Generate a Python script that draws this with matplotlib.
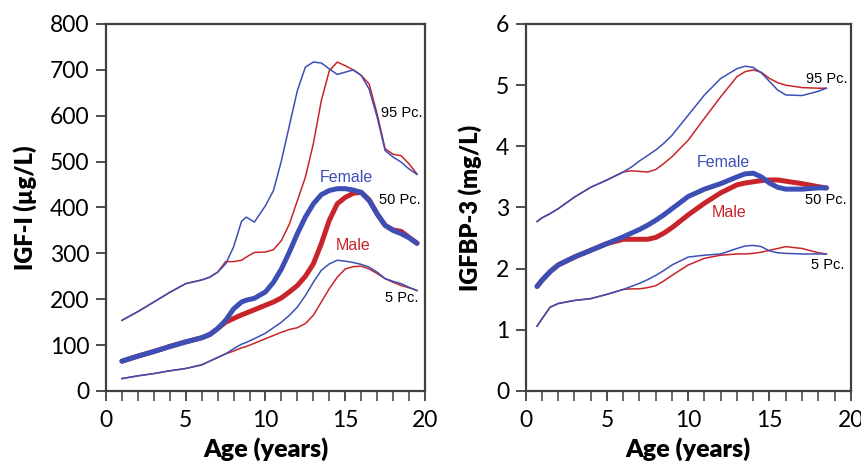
import matplotlib
matplotlib.use("Agg")
import matplotlib.pyplot as plt
import numpy as np

# ---------------- IGF-I data (µg/L) ----------------
age_igf = [1, 2, 3, 4, 5, 6, 6.5, 7, 7.5, 8, 8.5, 8.8, 9.3, 10, 10.5, 11, 11.5, 12, 12.5,
           13, 13.5, 14, 14.5, 15, 15.5, 16, 16.5, 17, 17.5, 18, 18.5, 19, 19.5]

igf_f95 = [154, 173, 194, 215, 234, 242, 248, 259, 277, 314, 370, 379, 368, 404, 437, 502,
           579, 655, 706, 717, 715, 702, 690, 695, 700, 688, 658, 597, 524, 510, 499, 484, 472]
igf_m95 = [154, 173, 194, 215, 234, 242, 248, 259, 282, 282, 285, 292, 302, 303, 308, 328,
           364, 415, 466, 539, 633, 698, 717, 709, 700, 688, 669, 604, 528, 516, 513, 495, 473]
igf_f50 = [65, 76, 86, 97, 107, 116, 123, 136, 154, 179, 194, 198, 202, 216, 237, 266,
           303, 343, 379, 408, 428, 437, 441, 441, 438, 433, 415, 386, 361, 350, 343, 334, 322]
igf_m50 = [65, 76, 86, 97, 107, 116, 123, 136, 150, 158, 166, 170, 177, 187, 194, 203,
           216, 230, 250, 277, 321, 372, 408, 422, 431, 433, 417, 386, 361, 351, 348, 335, 322]
igf_f5 = [27, 33, 38, 44, 49, 57, 65, 73, 81, 92, 102, 106, 114, 126, 138, 150,
          165, 183, 208, 237, 263, 277, 285, 283, 280, 276, 270, 259, 245, 239, 234, 226, 219]
igf_m5 = [27, 33, 38, 44, 49, 57, 65, 73, 81, 87, 94, 97, 104, 114, 121, 128,
          134, 138, 147, 165, 194, 223, 248, 266, 271, 272, 266, 256, 245, 237, 230, 225, 219]

# ---------------- IGFBP-3 data (mg/L) ----------------
age_bp = [0.7, 1, 1.5, 2, 3, 4, 5, 6, 6.5, 7, 7.5, 8, 8.5, 9, 10, 11, 12, 13, 13.5,
          14, 14.5, 15, 15.5, 16, 17, 18, 18.5]

bp_f95 = [2.77, 2.83, 2.90, 2.98, 3.17, 3.33, 3.45, 3.58, 3.66, 3.76, 3.85, 3.94, 4.05, 4.18,
          4.51, 4.84, 5.11, 5.27, 5.31, 5.29, 5.20, 5.06, 4.92, 4.84, 4.83, 4.90, 4.95]
bp_m95 = [2.77, 2.83, 2.90, 2.98, 3.17, 3.33, 3.45, 3.58, 3.60, 3.59, 3.58, 3.62, 3.72, 3.83,
          4.10, 4.46, 4.81, 5.14, 5.22, 5.25, 5.21, 5.11, 5.04, 5.00, 4.96, 4.95, 4.95]
bp_f50 = [1.71, 1.81, 1.95, 2.06, 2.19, 2.30, 2.41, 2.52, 2.58, 2.64, 2.71, 2.79, 2.88, 2.98,
          3.18, 3.30, 3.39, 3.50, 3.55, 3.56, 3.50, 3.40, 3.33, 3.30, 3.30, 3.32, 3.32]
bp_m50 = [1.71, 1.81, 1.95, 2.06, 2.19, 2.30, 2.41, 2.48, 2.48, 2.48, 2.48, 2.51, 2.58, 2.67,
          2.88, 3.07, 3.24, 3.37, 3.40, 3.42, 3.44, 3.45, 3.45, 3.43, 3.39, 3.34, 3.32]
bp_f5 = [1.06, 1.18, 1.37, 1.43, 1.48, 1.51, 1.58, 1.66, 1.71, 1.76, 1.82, 1.89, 1.97, 2.06,
         2.19, 2.22, 2.24, 2.33, 2.37, 2.38, 2.36, 2.29, 2.26, 2.25, 2.24, 2.24, 2.24]
bp_m5 = [1.06, 1.18, 1.37, 1.43, 1.48, 1.51, 1.58, 1.66, 1.67, 1.67, 1.69, 1.72, 1.80, 1.89,
         2.06, 2.17, 2.22, 2.24, 2.24, 2.25, 2.27, 2.30, 2.33, 2.36, 2.33, 2.26, 2.24]

BLUE = "#3d4fb5"
RED = "#c8252b"
SPINE = "#404040"

fig = plt.figure(figsize=(8.61, 4.62), dpi=100)
ax1 = fig.add_axes([0.1231, 0.1537, 0.3705, 0.7944])
ax2 = fig.add_axes([0.6106, 0.1537, 0.3775, 0.7944])

def style(ax, ymax, ystep, ylabel, ylabelpad):
    ax.set_xlim(0, 20)
    ax.set_ylim(0, ymax)
    ax.set_xticks([0, 5, 10, 15, 20])
    ax.set_xticks(np.arange(0, 21, 1), minor=True)
    ax.set_yticks(np.arange(0, ymax + ystep / 2, ystep))
    ax.tick_params(axis="both", which="major", direction="out", length=7, width=1.3,
                   color=SPINE, labelsize=16.5, pad=5)
    ax.tick_params(axis="x", which="minor", direction="out", length=7, width=1.1, color=SPINE)
    ax.tick_params(axis="x", which="major", pad=7)
    for lab in ax.get_xticklabels() + ax.get_yticklabels():
        lab.set_fontfamily("Lato")
    for s in ax.spines.values():
        s.set_color(SPINE)
        s.set_linewidth(1.6)
    ax.set_xlabel("Age (years)", fontsize=18, fontweight="heavy", family="Lato", labelpad=4)
    ax.set_ylabel(ylabel, fontsize=17, fontweight="heavy", family="Lato", labelpad=ylabelpad)

ANN = dict(fontsize=10.5, family="Liberation Sans", ha="center", va="center")
SEX = dict(fontsize=11.5, family="Liberation Sans", ha="center", va="center")

# Left panel: IGF-I
ax1.plot(age_igf, igf_m95, color=RED, lw=1.1)
ax1.plot(age_igf, igf_f95, color=BLUE, lw=1.1)
ax1.plot(age_igf, igf_m5, color=RED, lw=1.1)
ax1.plot(age_igf, igf_f5, color=BLUE, lw=1.1)
ax1.plot(age_igf, igf_m50, color=RED, lw=3.6, solid_capstyle="round")
ax1.plot(age_igf, igf_f50, color=BLUE, lw=3.6, solid_capstyle="round")
style(ax1, 800, 100, "IGF-I (µg/L)", 9)
ax1.text(18.56, 606, "95 Pc.", **ANN)
ax1.text(18.4, 416, "50 Pc.", **ANN)
ax1.text(18.56, 203, "5 Pc.", **ANN)
ax1.text(15.1, 466, "Female", color=BLUE, **SEX)
ax1.text(15.5, 318, "Male", color=RED, **SEX)

# Right panel: IGFBP-3
ax2.plot(age_bp, bp_m95, color=RED, lw=1.1)
ax2.plot(age_bp, bp_f95, color=BLUE, lw=1.1)
ax2.plot(age_bp, bp_m5, color=RED, lw=1.1)
ax2.plot(age_bp, bp_f5, color=BLUE, lw=1.1)
ax2.plot(age_bp, bp_m50, color=RED, lw=3.6, solid_capstyle="round")
ax2.plot(age_bp, bp_f50, color=BLUE, lw=3.6, solid_capstyle="round")
style(ax2, 6, 1, "IGFBP-3 (mg/L)", 10)
ax2.text(18.54, 5.10, "95 Pc.", **ANN)
ax2.text(18.48, 3.12, "50 Pc.", **ANN)
ax2.text(18.6, 2.06, "5 Pc.", **ANN)
ax2.text(12.14, 3.73, "Female", color=BLUE, **SEX)
ax2.text(12.5, 2.91, "Male", color=RED, **SEX)

fig.savefig("out.png", dpi=100)
